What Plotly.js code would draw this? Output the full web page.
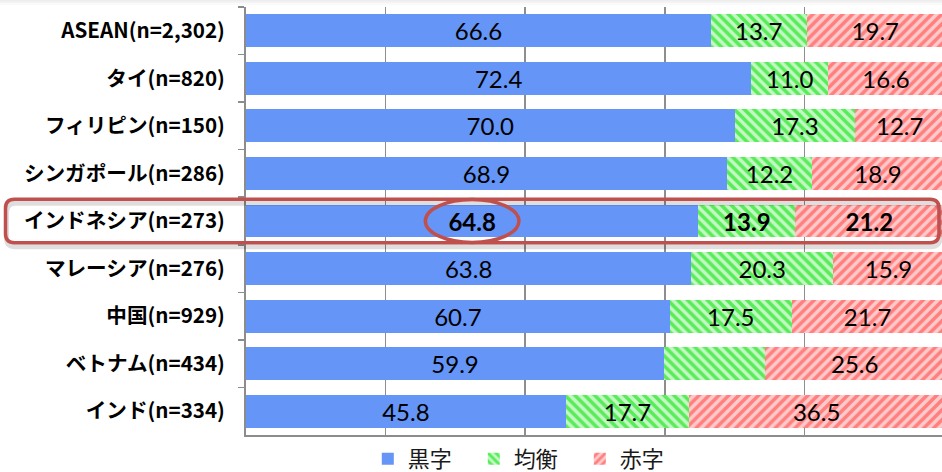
<!DOCTYPE html>
<html>
<head>
<meta charset="utf-8">
<script src="https://cdn.plot.ly/plotly-3.0.1.min.js"></script>
<style>
  html, body { margin: 0; padding: 0; background: #ffffff; }
  #chart { width: 942px; height: 472px; }
</style>
</head>
<body>
<div id="chart"></div>
<script>
// Profit outlook by country: share of companies in surplus / break-even / deficit (%)
const categories = [
  'ASEAN(n=2,302)', 'タイ(n=820)', 'フィリピン(n=150)', 'シンガポール(n=286)',
  'インドネシア(n=273)', 'マレーシア(n=276)', '中国(n=929)', 'ベトナム(n=434)', 'インド(n=334)'
];
const seriesNames = ['黒字', '均衡', '赤字'];
const surplus   = [66.6, 72.4, 70.0, 68.9, 64.8, 63.8, 60.7, 59.9, 45.8];
const balanced  = [13.7, 11.0, 17.3, 12.2, 13.9, 20.3, 17.5, 14.5, 17.7];
const deficit   = [19.7, 16.6, 12.7, 18.9, 21.2, 15.9, 21.7, 25.6, 36.5];

// Row that gets the emphasis frame, and labels left off the bars
const highlightRow = 'インドネシア(n=273)';
const hiddenLabels = [['均衡', 'ベトナム(n=434)']];

const hlIndex = categories.indexOf(highlightRow);

function labelsFor(name, values) {
  return values.map((v, i) => {
    const hidden = hiddenLabels.some(h => h[0] === name && h[1] === categories[i]);
    if (hidden) return '';
    const s = v.toFixed(1);
    return i === hlIndex ? '<b>' + s + '</b>' : s;
  });
}

const valueFont = { family: 'Lato, "Open Sans", sans-serif', size: 24, color: '#000000' };

function barTrace(name, values, marker) {
  return {
    type: 'bar',
    orientation: 'h',
    name: name,
    y: categories,
    x: values,
    text: labelsFor(name, values),
    textposition: 'inside',
    insidetextanchor: 'middle',
    textangle: 0,
    textfont: valueFont,
    constraintext: 'none',
    hoverinfo: 'skip',
    marker: marker
  };
}

const traces = [
  barTrace(seriesNames[0], surplus, { color: '#6495f7', line: { width: 0 } }),
  barTrace(seriesNames[1], balanced, {
    color: '#58ec58',
    line: { width: 0 },
    pattern: { shape: '\\', fgcolor: '#58ec58', bgcolor: '#c4f7c4', size: 7, solidity: 0.5, fillmode: 'replace' }
  }),
  barTrace(seriesNames[2], deficit, {
    color: '#ff7f7f',
    line: { width: 0 },
    pattern: { shape: '/', fgcolor: '#ff7f7f', bgcolor: '#ffcaca', size: 7, solidity: 0.5, fillmode: 'replace' }
  })
];

const H = 472, MT = 7, MB = 37;
const plotH = H - MT - MB;
// convert a pixel row (from page top) to paper y
const pyToPaper = py => (H - MB - py) / plotH;

const frameRed = '#c0504d';

// rounded rectangle path in pixel offsets
function roundRect(x0, x1, h, r, dy) {
  const t = h + dy, b = -h + dy;
  return `M${x0 + r},${t} L${x1 - r},${t} Q${x1},${t} ${x1},${t - r} ` +
         `L${x1},${b + r} Q${x1},${b} ${x1 - r},${b} L${x0 + r},${b} ` +
         `Q${x0},${b} ${x0},${b + r} L${x0},${t - r} Q${x0},${t} ${x0 + r},${t} Z`;
}

const frameX0 = -240.5, frameX1 = 693, frameH = 21.7, frameR = 9;
const ellW = 46.8, ellH = 21.5;

const shapes = [
  // soft shadow band along the top edge
  { type: 'rect', xref: 'paper', yref: 'paper', x0: -0.36, x1: 1.01, y0: pyToPaper(0), y1: pyToPaper(1.5),
    fillcolor: 'rgba(0,0,0,0.07)', line: { width: 0 }, layer: 'below' },
  { type: 'rect', xref: 'paper', yref: 'paper', x0: -0.36, x1: 1.01, y0: pyToPaper(1.5), y1: pyToPaper(3),
    fillcolor: 'rgba(0,0,0,0.045)', line: { width: 0 }, layer: 'below' },
  { type: 'rect', xref: 'paper', yref: 'paper', x0: -0.36, x1: 1.01, y0: pyToPaper(3), y1: pyToPaper(5),
    fillcolor: 'rgba(0,0,0,0.02)', line: { width: 0 }, layer: 'below' },
  // emphasis frame: shadow then outline
  { type: 'path', xref: 'paper', yref: 'y', xsizemode: 'pixel', ysizemode: 'pixel',
    xanchor: 0, yanchor: hlIndex,
    path: roundRect(frameX0 + 1, frameX1 + 1, frameH, frameR, -4),
    line: { color: 'rgba(0,0,0,0.13)', width: 5 } },
  { type: 'path', xref: 'paper', yref: 'y', xsizemode: 'pixel', ysizemode: 'pixel',
    xanchor: 0, yanchor: hlIndex,
    path: roundRect(frameX0, frameX1, frameH, frameR, 0),
    line: { color: frameRed, width: 3.5 } },
  // ellipse around the highlighted surplus value
  { type: 'circle', xref: 'x', yref: 'y', xsizemode: 'pixel', ysizemode: 'pixel',
    xanchor: surplus[hlIndex] / 2, yanchor: hlIndex,
    x0: -ellW, x1: ellW, y0: -ellH, y1: ellH,
    line: { color: frameRed, width: 3.5 } }
];

const layout = {
  width: 942,
  height: 472,
  margin: { l: 246, r: 0, t: MT, b: MB, pad: 0, autoexpand: false },
  paper_bgcolor: '#ffffff',
  plot_bgcolor: '#ffffff',
  barmode: 'stack',
  bargap: 0.31,
  showlegend: true,
  font: { family: '"Noto Sans CJK JP", sans-serif', color: '#000000' },
  xaxis: {
    range: [0, 99.71],
    dtick: 20,
    tick0: 0,
    showticklabels: false,
    ticks: '',
    showgrid: true,
    gridcolor: '#8e8e8e',
    gridwidth: 1.5,
    zeroline: false,
    showline: true,
    linecolor: '#8c8c8c',
    linewidth: 2,
    automargin: false,
    fixedrange: true
  },
  yaxis: {
    type: 'category',
    autorange: 'reversed',
    showline: true,
    linecolor: '#8c8c8c',
    linewidth: 2,
    ticks: 'outside',
    tickson: 'boundaries',
    ticklen: 6,
    tickwidth: 1.5,
    tickcolor: '#8c8c8c',
    ticklabelstandoff: 15,
    showgrid: false,
    zeroline: false,
    automargin: false,
    tickfont: { family: '"Noto Sans CJK JP", sans-serif', size: 20.6, color: '#000000', weight: 'bold' },
    fixedrange: true
  },
  legend: {
    orientation: 'h',
    x: 0.175,
    xanchor: 'left',
    y: pyToPaper(459),
    yanchor: 'middle',
    font: { family: '"Noto Sans CJK JP", sans-serif', size: 22, color: '#1a1a1a' },
    entrywidth: 61,
    entrywidthmode: 'pixels',
    bgcolor: 'rgba(0,0,0,0)',
    traceorder: 'normal'
  },
  shapes: shapes
};

Plotly.newPlot('chart', traces, layout, { staticPlot: true, displayModeBar: false });
</script>
</body>
</html>
